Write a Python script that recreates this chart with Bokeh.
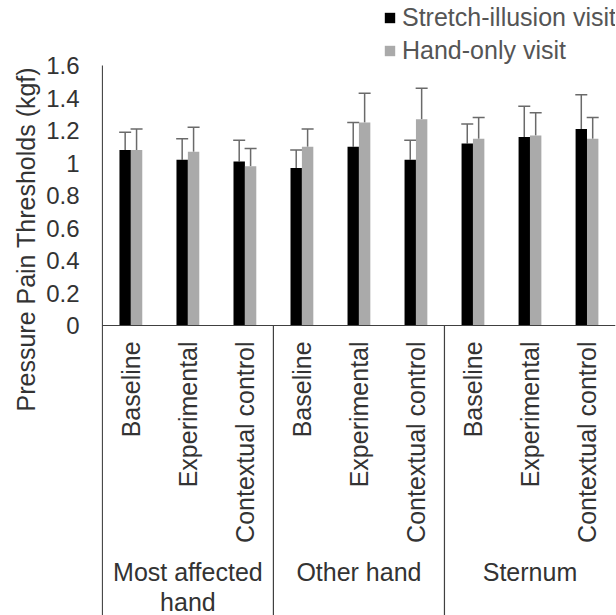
import numpy as np
from math import pi
from bokeh.plotting import figure
from bokeh.models import (ColumnDataSource, Range1d, LinearAxis, FixedTicker,
                          CustomJSTickFormatter, Whisker, TeeHead, Legend,
                          LegendItem, Title)
from bokeh.core.properties import value
from bokeh.embed import file_html
from bokeh.resources import INLINE

# ---- data ----
conditions = ["Baseline", "Experimental", "Contextual control"]
sites = ["Most affected\nhand", "Other hand", "Sternum"]
series_names = ["Stretch-illusion visit", "Hand-only visit"]
stretch = [1.08, 1.02, 1.01, 0.97, 1.10, 1.02, 1.12, 1.16, 1.21]
stretch_err = [0.11, 0.13, 0.13, 0.11, 0.15, 0.12, 0.12, 0.19, 0.21]
hand = [1.08, 1.07, 0.98, 1.10, 1.25, 1.27, 1.15, 1.17, 1.15]
hand_err = [0.13, 0.15, 0.11, 0.11, 0.18, 0.19, 0.13, 0.14, 0.13]
y_ticks = [0, 0.2, 0.4, 0.6, 0.8, 1.0, 1.2, 1.4, 1.6]

FONT = "Liberation Sans"
FS = "25px"
TFS = "24px"
AX = "#404040"
TXT = "#333333"
EC = "#6a6a6a"
BLACK = "#000000"
GRAY = "#aaaaaa"

n_cond = len(conditions)
n = n_cond * len(sites)
xc = np.arange(n) + 0.5
bw = 0.2
y_bottom = -1.7846
y_top = 2.0

p = figure(width=616, height=615,
           x_range=Range1d(-0.015, n), y_range=Range1d(y_bottom, y_top),
           x_axis_type=None, y_axis_type=None,
           output_backend="svg", toolbar_location=None,
           min_border_left=101, min_border_right=1,
           min_border_top=0, min_border_bottom=0,
           outline_line_color=None, background_fill_color="white")

yaxis = LinearAxis(ticker=FixedTicker(ticks=y_ticks),
                   formatter=CustomJSTickFormatter(code="return tick.toFixed(1).replace(/\\.0$/, '')"),
                   major_tick_line_color=None, minor_tick_line_color=None,
                   major_tick_out=0, major_tick_in=0, major_label_standoff=22,
                   axis_line_color=None,
                   major_label_text_font=FONT, major_label_text_font_size=TFS,
                   major_label_text_color=TXT)
p.add_layout(yaxis, "left")

p.add_layout(Title(text="Pressure Pain Thresholds (kgf)", align="left", offset=204,
                   standoff=8, text_font=FONT, text_font_size=FS,
                   text_font_style="normal", text_color=TXT), "left")

src = ColumnDataSource(dict(
    x1=xc - bw / 2, x2=xc + bw / 2,
    s=stretch, h=hand,
    s_up=np.array(stretch) + np.array(stretch_err),
    h_up=np.array(hand) + np.array(hand_err),
))

r1 = p.vbar(x="x1", top="s", bottom=0, width=bw, source=src,
            fill_color=BLACK, line_color=None)
r2 = p.vbar(x="x2", top="h", bottom=0, width=bw, source=src,
            fill_color=GRAY, line_color=None)

for base, lo, up in (("x1", "s", "s_up"), ("x2", "h", "h_up")):
    w = Whisker(source=src, base=base, lower=lo, upper=up, dimension="height",
                line_color=EC, line_width=1.5,
                upper_head=TeeHead(size=12, line_color=EC, line_width=1.5),
                lower_head=None)
    p.add_layout(w)

# value axis line, category axis line and group separators
p.segment(x0=[0], y0=[y_bottom], x1=[0], y1=[y_ticks[-1]], line_color=AX, line_width=1.2)
p.segment(x0=[0], y0=[0], x1=[n], y1=[0], line_color=AX, line_width=1.2)
seps = [n_cond * k for k in range(1, len(sites))]
p.segment(x0=seps, y0=[0] * len(seps), x1=seps, y1=[y_bottom] * len(seps),
          line_color=AX, line_width=1.2)

# category labels (vertical)
p.text(x=xc, y=[-0.098] * n, text=conditions * len(sites), angle=pi / 2,
       text_align="right", text_baseline="middle",
       text_font=value(FONT), text_font_size=FS, text_color=TXT)

# group labels
gx = np.arange(len(sites)) * n_cond + n_cond / 2
p.text(x=gx, y=[-1.43] * len(sites), text=sites,
       text_align="center", text_baseline="top", text_line_height=1.06,
       text_font=value(FONT), text_font_size=FS, text_color=TXT)

legend = Legend(items=[LegendItem(label=series_names[0], renderers=[r1]),
                       LegendItem(label=series_names[1], renderers=[r2])],
                location=(282, 550), orientation="vertical",
                glyph_width=13, glyph_height=13, label_standoff=6,
                spacing=4, padding=0, margin=0,
                border_line_color=None, background_fill_alpha=0,
                label_text_font=FONT, label_text_font_size=FS,
                label_text_color="#555555")
p.add_layout(legend)

open("out.html", "w").write(file_html(p, INLINE))
